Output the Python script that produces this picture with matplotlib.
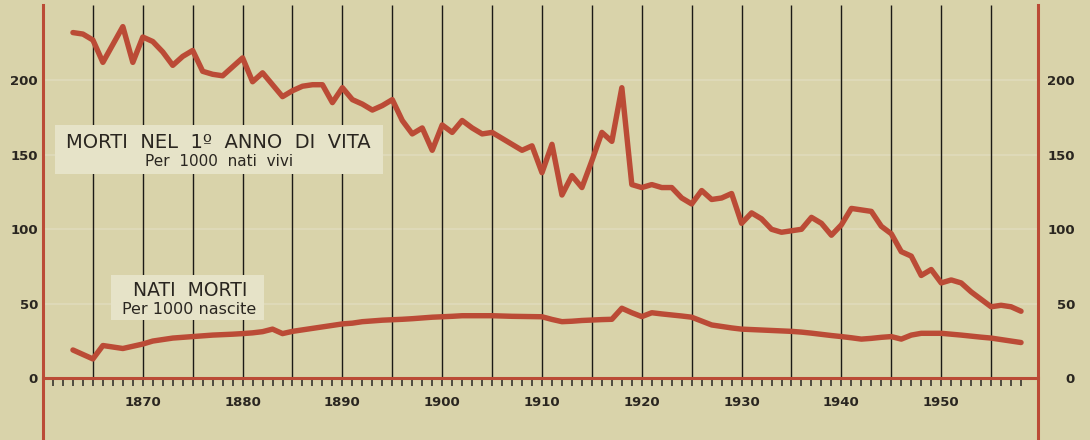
import matplotlib.pyplot as plt
from matplotlib.patches import Rectangle

# anni 1863-1958
years = list(range(1863, 1959))

# morti nel 1º anno di vita, per 1000 nati vivi
morti_1_anno = [232, 231, 227, 212, 224, 236, 212,
                229, 226, 219, 210, 216, 220, 206, 204, 203, 209,
                215, 199, 205, 197, 189, 193, 196, 197, 197, 185,
                195, 187, 184, 180, 183, 187, 173, 164, 168, 153,
                170, 165, 173, 168, 164, 165, 161, 157, 153, 156,
                138, 157, 123, 136, 128, 146, 165, 159, 195, 130,
                128, 130, 128, 128, 121, 117, 126, 120, 121, 124,
                104, 111, 107, 100, 98, 99, 100, 108, 104, 96,
                103, 114, 113, 112, 102, 97, 85, 82, 69, 73,
                64, 66, 64, 58, 53, 48, 49, 48, 45]

# nati morti, per 1000 nascite
nati_morti = [19, 16, 13, 22, 21, 20, 21.5,
              23, 25, 26, 27, 27.5, 28, 28.5, 29, 29.3, 29.6,
              30, 30.5, 31.3, 33, 30, 31.5, 32.5, 33.5, 34.5, 35.5,
              36.5, 37, 38, 38.5, 39, 39.3, 39.6, 40, 40.5, 41,
              41.3, 41.6, 42, 42, 42, 42, 41.8, 41.6, 41.5, 41.4,
              41.3, 39.5, 38, 38.3, 38.8, 39.1, 39.4, 39.6, 47, 44,
              41.4, 44, 43.2, 42.5, 41.8, 41, 38.4, 35.8, 34.8, 33.8,
              33, 32.7, 32.4, 32.1, 31.8, 31.5, 31, 30.3, 29.5, 28.7,
              28, 27.2, 26.3, 26.8, 27.5, 28, 26.3, 29, 30.2, 30.2,
              30.2, 29.6, 29, 28.3, 27.6, 27, 26, 25, 24]

decade_ticks = list(range(1870, 1951, 10))
year_ticks = list(range(1861, 1959))
grid_years = list(range(1865, 1956, 5))
y_ticks = [0, 50, 100, 150, 200]

BG = '#d9d3aa'
BOX = '#e6e3c8'
RED = '#bb4b36'
INK = '#2a2620'

fig = plt.figure(figsize=(10.9, 4.4), dpi=100, facecolor=BG)
ax = fig.add_axes([43 / 1090, 0, 995 / 1090, 435 / 440])
ax.set_facecolor(BG)
ax.set_xlim(1860, 1959.7)
ax.set_ylim(-41.4, 250.5)

# bande chiare della carta
for v in y_ticks[1:]:
    ax.axhline(v, color='#e0dbbb', lw=1.2, zorder=0)

# linee verticali ogni 5 anni
ax.vlines(grid_years, 0, 250.5, color='#1c1a16', lw=1.0, zorder=1)

# riquadri delle etichette
ax.add_patch(Rectangle((1861.2, 137), 32.9, 33.1, facecolor=BOX,
                       edgecolor='none', zorder=2))
ax.add_patch(Rectangle((1866.8, 39.2), 15.3, 30.2, facecolor=BOX,
                       edgecolor='none', zorder=2))
ax.text(1877.6, 158.5, 'MORTI  NEL  1º  ANNO  DI  VITA', ha='center',
        va='center', fontsize=14, color=INK, zorder=3)
ax.text(1877.6, 145.3, 'Per  1000  nati  vivi', ha='center', va='center',
        fontsize=11, color=INK, zorder=3)
ax.text(1874.7, 58.8, 'NATI  MORTI', ha='center', va='center',
        fontsize=13.5, color=INK, zorder=3)
ax.text(1874.6, 46.3, 'Per 1000 nascite', ha='center', va='center',
        fontsize=11.5, color=INK, zorder=3)

# serie
ax.plot(years, morti_1_anno, color=RED, lw=3.9, solid_joinstyle='round',
        solid_capstyle='round', zorder=4)
ax.plot(years, nati_morti, color=RED, lw=3.9, solid_joinstyle='round',
        solid_capstyle='round', zorder=4)

# assi
ax.spines['top'].set_visible(False)
ax.spines['bottom'].set_position(('data', 0))
ax.spines['bottom'].set_color(RED)
ax.spines['bottom'].set_linewidth(2.2)
for s in ['left', 'right']:
    ax.spines[s].set_color(RED)
    ax.spines[s].set_linewidth(2.2)

ax.set_xticks(decade_ticks)
ax.set_xticklabels([str(y) for y in decade_ticks])
ax.set_xticks(year_ticks, minor=True)
ax.tick_params(axis='x', which='both', direction='out', length=5.5,
               width=1.1, color=INK, pad=7, labelsize=9.5, labelcolor=INK)
for t in ax.get_xticklabels():
    t.set_fontweight('bold')

ax.set_yticks(y_ticks)
ax.set_yticklabels([str(v) for v in y_ticks])
ax.tick_params(axis='y', length=0, pad=3.6, labelsize=9.5, labelcolor=INK)
for t in ax.get_yticklabels():
    t.set_fontweight('bold')

ax2 = ax.twinx()
ax2.set_ylim(ax.get_ylim())
ax2.set_yticks(y_ticks)
ax2.set_yticklabels([str(v) for v in y_ticks])
ax2.tick_params(axis='y', length=0, pad=26.6, labelsize=9.5, labelcolor=INK)
for t in ax2.get_yticklabels():
    t.set_fontweight('bold')
    t.set_horizontalalignment('right')
for s in ax2.spines.values():
    s.set_visible(False)

fig.savefig('out.png', dpi=100, facecolor=BG)
